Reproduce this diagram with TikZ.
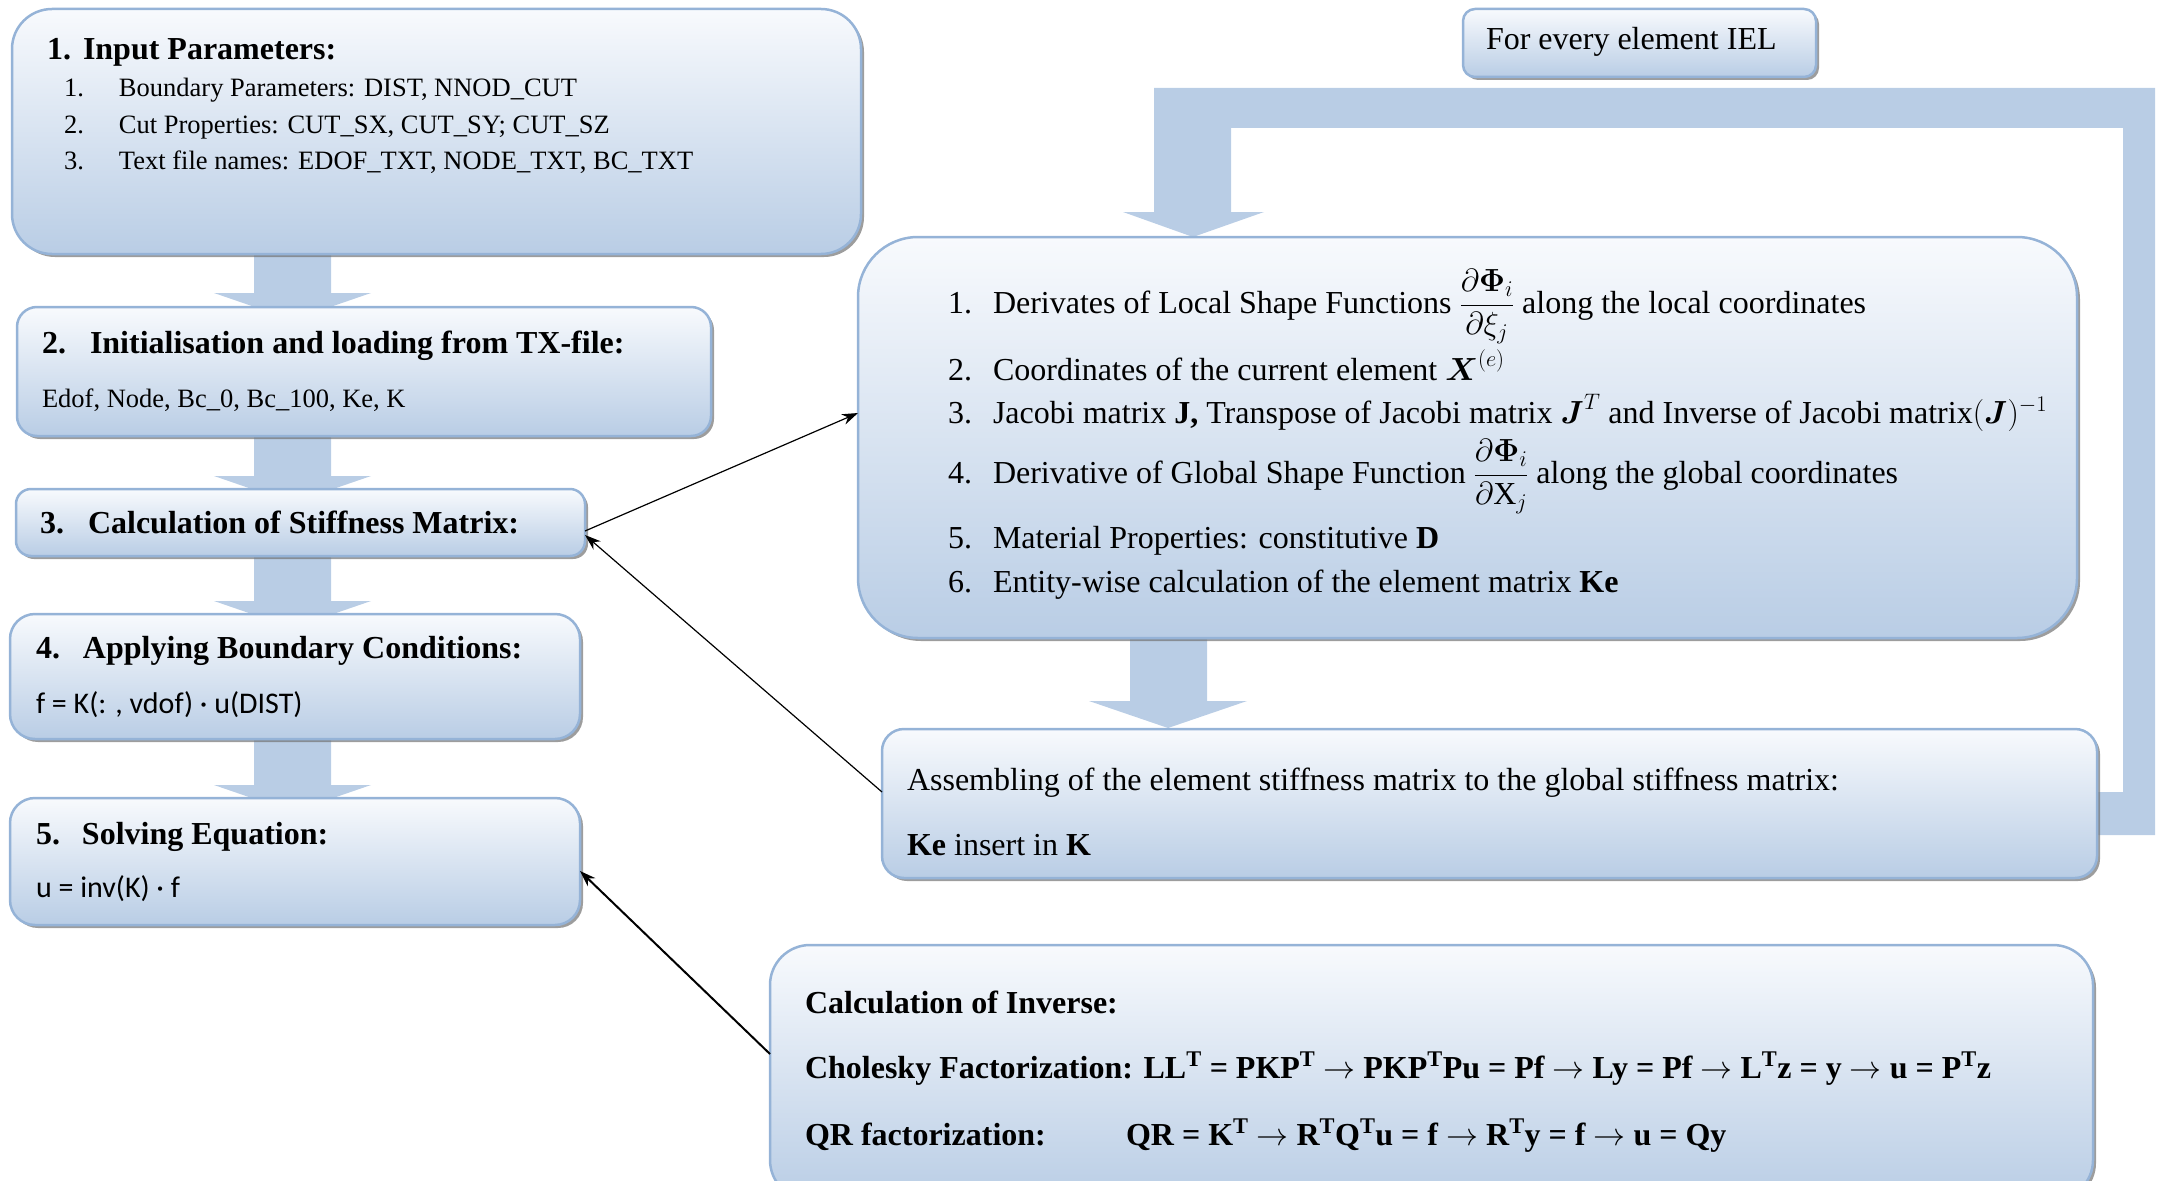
\RequirePackage{fix-cm}
\documentclass[tikz,border=0pt]{standalone}
\usepackage{fontspec}
\setmainfont{Liberation Serif}
\newfontfamily\eqsans{Carlito}
\usepackage{amsmath}
\usetikzlibrary{shadows,arrows.meta}

\definecolor{boxline}{HTML}{95B3D7}
\definecolor{boxtop}{HTML}{F8FAFD}
\definecolor{boxbot}{HTML}{B9CDE5}
\definecolor{flowfill}{HTML}{B9CDE5}

\newcommand\tto{\ $\rightarrow$\ }

\tikzset{
  panel/.style={draw=boxline, line width=2.5pt, top color=boxtop, bottom color=boxbot,
    inner sep=0pt, outer sep=0pt, anchor=north west,
    drop shadow={shadow xshift=3pt, shadow yshift=-3pt, fill=black!55, opacity=0.7}},
  txt/.style={anchor=base west, inner sep=0pt, outer sep=0pt, font=\fontsize{32}{38}\selectfont},
  txts/.style={anchor=base west, inner sep=0pt, outer sep=0pt, font=\fontsize{26.5}{32}\selectfont},
  hd/.style={anchor=base west, inner sep=0pt, outer sep=0pt, font=\fontsize{32}{38}\selectfont\bfseries},
  eq/.style={anchor=base west, inner sep=0pt, outer sep=0pt, font=\fontsize{30}{36}\selectfont\eqsans},
  flow/.style={fill=flowfill, draw=none},
  link/.style={draw=black, line width=1.2pt, -{Stealth[length=16pt,width=11pt]}},
}

\begin{document}
\begin{tikzpicture}[x=1pt, y=-1pt]
\useasboundingbox (0,0) rectangle (2159,1180);
\clip (0,0) rectangle (2159,1180);

% block arrows of the main column
\fill[flow] (254,240) -- (331,240) -- (331,293) -- (371,293) -- (292.5,320) -- (214,293) -- (254,293) -- cycle;
\fill[flow] (254,420) -- (331,420) -- (331,476) -- (371,476) -- (292.5,503) -- (214,476) -- (254,476) -- cycle;
\fill[flow] (254,540) -- (331,540) -- (331,601) -- (371,601) -- (292.5,628) -- (214,601) -- (254,601) -- cycle;
\fill[flow] (254,725) -- (331,725) -- (331,785) -- (371,785) -- (292.5,812) -- (214,785) -- (254,785) -- cycle;

% element loop band
\fill[flow] (2080,792) -- (2123,792) -- (2123,128) -- (1231,128) -- (1231,212) -- (1264,212)
  -- (1193,237) -- (1123,212) -- (1154,212) -- (1154,88) -- (2155,88) -- (2155,835) -- (2080,835) -- cycle;
% from element matrix to assembly
\fill[flow] (1130,620) -- (1207,620) -- (1207,701) -- (1247,701) -- (1168,728) -- (1089,701) -- (1130,701) -- cycle;

% boxes of the main column
\node[panel, rounded corners=40pt, minimum width=849pt, minimum height=245pt] (b1) at (12,9) {};
\node[panel, rounded corners=20pt, minimum width=694pt, minimum height=129pt] (b2) at (17,307) {};
\node[panel, rounded corners=15pt, minimum width=569pt, minimum height=67pt] (b3) at (16,489) {};
\node[panel, rounded corners=25pt, minimum width=570pt, minimum height=125pt] (b4) at (10,614) {};
\node[panel, rounded corners=25pt, minimum width=570pt, minimum height=127pt] (b5) at (10,798) {};

% boxes of the element loop
\node[panel, rounded corners=12pt, minimum width=353pt, minimum height=68pt] (iel) at (1463,9) {};
\node[panel, rounded corners=60pt, minimum width=1219pt, minimum height=401pt] (bb) at (858,237) {};
\node[panel, rounded corners=22pt, minimum width=1215pt, minimum height=149pt] (asm) at (882,729) {};
\node[panel, rounded corners=40pt, minimum width=1323pt, minimum height=255pt] (inv) at (770,945) {};

% 1. input parameters
\node[hd] (t1) at (47,60) {\makebox[36pt][l]{1.}Input Parameters:};
\node[txts] (t1a) at (64,97) {\makebox[55pt][l]{1.}Boundary Parameters: DIST, NNOD\_CUT};
\node[txts] (t1b) at (64,133) {\makebox[55pt][l]{2.}Cut Properties: CUT\_SX, CUT\_SY; CUT\_SZ};
\node[txts] (t1c) at (64,169) {\makebox[55pt][l]{3.}Text file names: EDOF\_TXT, NODE\_TXT, BC\_TXT};

% 2. initialisation
\node[hd] (t2) at (42,353) {\makebox[48pt][l]{2.}Initialisation and loading from TX-file:};
\node[txts] (t2a) at (42,407) {Edof, Node, Bc\_0, Bc\_100, Ke, K};

% 3. stiffness matrix
\node[hd] (t3) at (40,533) {\makebox[48pt][l]{3.}Calculation of Stiffness Matrix:};

% 4. boundary conditions
\node[hd] (t4) at (36,658) {\makebox[47pt][l]{4.}Applying Boundary Conditions:};
\node[eq] (t4a) at (36,713) {f = K(: , vdof) · u(DIST)};

% 5. solving
\node[hd] (t5) at (36,844) {\makebox[46pt][l]{5.}Solving Equation:};
\node[eq] (t5a) at (36,897) {u = inv(K) · f};

% element loop
\node[txt] (tiel) at (1486,50) {For every element IEL};

\node[txt] (e1) at (948,313) {\makebox[45pt][l]{1.}Derivates of Local Shape Functions $\dfrac{\partial\boldsymbol{\Phi}_i}{\partial\xi_j}$ along the local coordinates};
\node[txt] (e2) at (948,380) {\makebox[45pt][l]{2.}Coordinates of the current element $\boldsymbol{X}^{(e)}$};
\node[txt] (e3) at (948,423) {\makebox[45pt][l]{3.}Jacobi matrix \textbf{J,} Transpose of Jacobi matrix $\boldsymbol{J}^{T}$ and Inverse of Jacobi matrix$(\boldsymbol{J})^{-1}$};
\node[txt] (e4) at (948,483) {\makebox[45pt][l]{4.}Derivative of Global Shape Function $\dfrac{\partial\boldsymbol{\Phi}_i}{\partial\mathrm{X}_j}$ along the global coordinates};
\node[txt] (e5) at (948,548) {\makebox[45pt][l]{5.}Material Properties: constitutive \textbf{D}};
\node[txt] (e6) at (948,592) {\makebox[45pt][l]{6.}Entity-wise calculation of the element matrix \textbf{Ke}};

\node[txt] (s1) at (907,790) {Assembling of the element stiffness matrix to the global stiffness matrix:};
\node[txt] (s2) at (907,855) {\textbf{Ke} insert in \textbf{K}};

% inverse
\node[hd] (i1) at (805,1013) {Calculation of Inverse:};
\node[hd] (i2) at (805,1078) {Cholesky Factorization: LL\textsuperscript{T} = PKP\textsuperscript{T}\tto PKP\textsuperscript{T}Pu = Pf\tto Ly = Pf\tto L\textsuperscript{T}z = y\tto u = P\textsuperscript{T}z};
\node[hd] (i3) at (805,1145) {QR factorization:};
\node[hd] (i4) at (1126,1145) {QR = K\textsuperscript{T}\tto R\textsuperscript{T}Q\textsuperscript{T}u = f\tto R\textsuperscript{T}y = f\tto u = Qy};

% connectors
\draw[link] ([yshift=-8.5pt]b3.east) -- ([yshift=24.5pt]bb.west);
\draw[link] ([yshift=11.5pt]asm.west) -- ([yshift=-12.5pt]b3.east);
\draw[link, line width=2pt] ([yshift=18.5pt]inv.west) -- ([yshift=-9.5pt]b5.east);
\end{tikzpicture}
\end{document}
